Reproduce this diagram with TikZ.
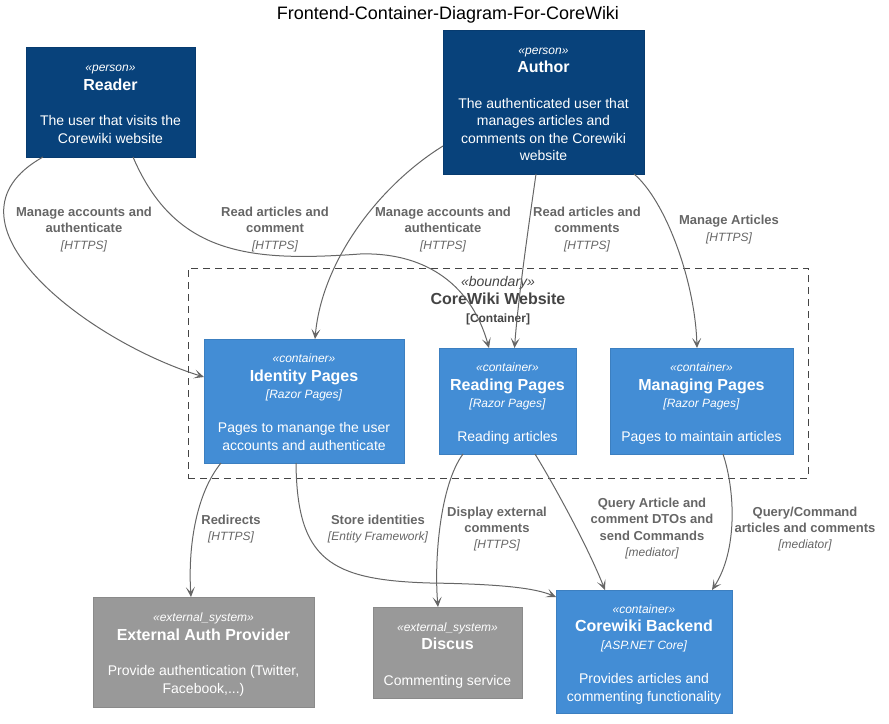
\documentclass[tikz,border=0pt]{standalone}
\usepackage{fontspec}
\setmainfont{Liberation Sans}
\usepackage{tikz}
\usetikzlibrary{arrows.meta,positioning}

\definecolor{personBlue}{HTML}{08427B}
\definecolor{personLine}{HTML}{073B6F}
\definecolor{containerBlue}{HTML}{438DD5}
\definecolor{containerLine}{HTML}{3C7FC0}
\definecolor{externalGray}{HTML}{999999}
\definecolor{externalLine}{HTML}{8A8A8A}
\definecolor{relGray}{HTML}{666666}
\definecolor{boundaryGray}{HTML}{444444}

\newcommand{\stereo}[1]{{\rule{0pt}{14pt}\fontsize{12}{17.5}\itshape\selectfont «#1»}}
\newcommand{\boxname}[1]{{\fontsize{16}{17.5}\bfseries\selectfont #1}}
\newcommand{\boxtech}[1]{{\fontsize{12}{17.5}\itshape\selectfont [#1]}}
\newcommand{\descend}{\rule[-3pt]{0pt}{3pt}}
\newcommand{\reltech}[1]{{\fontsize{12}{16}\mdseries\itshape\selectfont [#1]}}

\begin{document}
\begin{tikzpicture}[x=1pt, y=-1pt]
	\tikzstyle{person} = [rectangle, draw=personLine, fill=personBlue, text=white,
	align=center, inner sep=0pt, outer sep=0pt, font=\fontsize{14}{17.5}\selectfont]
	\tikzstyle{container} = [rectangle, draw=containerLine, fill=containerBlue, text=white,
	align=center, inner sep=0pt, outer sep=0pt, font=\fontsize{14}{17.5}\selectfont]
	\tikzstyle{external} = [rectangle, draw=externalLine, fill=externalGray, text=white,
	align=center, inner sep=0pt, outer sep=0pt, font=\fontsize{14}{17.5}\selectfont]
	\tikzstyle{boundary} = [rectangle, draw=boundaryGray, line width=1pt,
	dash pattern=on 7pt off 5pt, inner sep=0pt, outer sep=0pt]
	\tikzstyle{rel} = [draw=relGray, line width=1pt, -{Stealth[length=10pt, width=9pt, inset=5pt]}]
	\tikzstyle{rellabel} = [align=center, text=relGray, font=\fontsize{13}{16.3}\bfseries\selectfont]
	\useasboundingbox (0,0) rectangle (889,723);
	\node (title) at (448,15) {\fontsize{18}{20}\selectfont Frontend-Container-Diagram-For-CoreWiki};
	% boundary of the website
	\node (website) [boundary, minimum width=620pt, minimum height=210pt] at (498,373) {};
	\node (websiteLabel) [align=center, text=boundaryGray, font=\fontsize{16}{18}\selectfont] at (498,301)
	{{\fontsize{14}{18}\itshape\selectfont «boundary»}\\ {\bfseries CoreWiki Website}\\
	{\fontsize{12}{18}\bfseries\selectfont [Container]}};
	% people
	\node (reader) [person, minimum width=169pt, minimum height=110pt] at (110.5,102)
	{\stereo{person}\\[1pt] \boxname{Reader}\\[18pt] The user that visits the\\ Corewiki website\descend};
	\node (author) [person, minimum width=201pt, minimum height=144pt] at (543.5,102)
	{\stereo{person}\\[1pt] \boxname{Author}\\[18pt] The authenticated user that\\ manages articles and\\
	comments on the Corewiki\\ website\descend};
	% containers
	\node (identity) [container, minimum width=200pt, minimum height=124pt] at (304,401)
	{\stereo{container}\\[1pt] \boxname{Identity Pages}\\ \boxtech{Razor Pages}\\[16.5pt]
	Pages to manange the user\\ accounts and authenticate\descend};
	\node (reading) [container, minimum width=137pt, minimum height=106pt] at (507.5,401)
	{\stereo{container}\\[1pt] \boxname{Reading Pages}\\ \boxtech{Razor Pages}\\[16.5pt] Reading articles\descend};
	\node (managing) [container, minimum width=183pt, minimum height=106pt] at (701.5,401)
	{\stereo{container}\\[1pt] \boxname{Managing Pages}\\ \boxtech{Razor Pages}\\[16.5pt] Pages to maintain articles\descend};
	\node (backend) [container, minimum width=176pt, minimum height=123pt] at (644,651.5)
	{\stereo{container}\\[1pt] \boxname{Corewiki Backend}\\ \boxtech{ASP.NET Core}\\[17pt]
	Provides articles and\\ commenting functionality\descend};
	% external systems
	\node (authProvider) [external, minimum width=221pt, minimum height=110pt] at (203.5,652)
	{\stereo{external\_system}\\[1pt] \boxname{External Auth Provider}\\[18pt]
	Provide authentication (Twitter,\\ Facebook,...)\descend};
	\node (discus) [external, minimum width=149pt, minimum height=91pt] at (447.5,652.5)
	{\stereo{external\_system}\\[1pt] \boxname{Discus}\\[18pt] Commenting service\descend};
	% relation labels
	\node (lblReaderIdentity) [rellabel] at (84,229.5) {Manage accounts and\\ authenticate\\ \reltech{HTTPS}};
	\node (lblReaderReading) [rellabel] at (275,229.5) {Read articles and\\ comment\\ \reltech{HTTPS}};
	\node (lblAuthorIdentity) [rellabel] at (443,229.5) {Manage accounts and\\ authenticate\\ \reltech{HTTPS}};
	\node (lblAuthorReading) [rellabel] at (587,229.5) {Read articles and\\ comments\\ \reltech{HTTPS}};
	\node (lblAuthorManaging) [rellabel] at (729,229.5) {Manage Articles\\ \reltech{HTTPS}};
	\node (lblRedirects) [rellabel] at (231,529) {Redirects\\ \reltech{HTTPS}};
	\node (lblStore) [rellabel] at (378,529) {Store identities\\ \reltech{Entity Framework}};
	\node (lblDisplay) [rellabel] at (497,529) {Display external\\ comments\\ \reltech{HTTPS}};
	\node (lblQuery) [rellabel] at (652,528.5) {Query Article and\\ comment DTOs and\\ send Commands\\ \reltech{mediator}};
	\node (lblCommand) [rellabel] at (805,529) {Query/Command\\ articles and comments\\ \reltech{mediator}};
	% relations
	\draw [rel] ([xshift=17pt]reader.south west) .. controls (-70,220) and (85,340) .. ([yshift=24pt]identity.west);
	\draw [rel] ([xshift=-62pt]reader.south east) .. controls (175,255) and (250,262) .. (360,254)
	.. controls (420,252) and (470,280) .. ([xshift=-18.5pt]reading.north);
	\draw [rel] ([yshift=-44pt]author.west) .. controls (380,185) and (322,260) .. ([xshift=11pt]identity.north);
	\draw [rel] ([xshift=-7.5pt]author.south) .. controls (528,230) and (518,300) .. ([xshift=7pt]reading.north);
	\draw [rel] ([xshift=-10pt]author.south east) .. controls (665,200) and (695,280) .. ([xshift=-4.5pt]managing.north);
	\draw [rel] ([xshift=17pt]identity.south west) .. controls (195,495) and (188,550) .. ([xshift=-12.5pt]authProvider.north);
	\draw [rel] ([xshift=-8pt]identity.south) .. controls (297,560) and (330,580) .. (430,583)
	.. controls (500,584) and (535,588) .. ([yshift=54.5pt]backend.west);
	\draw [rel] ([xshift=24pt]reading.south west) .. controls (440,485) and (434,560) .. ([xshift=-9.5pt]discus.north);
	\draw [rel] ([xshift=-41pt]reading.south east) .. controls (548,475) and (585,540) .. ([xshift=-39pt]backend.north);
	\draw [rel] ([xshift=-70pt]managing.south east) .. controls (735,490) and (738,550) .. ([xshift=68pt]backend.north);
\end{tikzpicture}
\end{document}
